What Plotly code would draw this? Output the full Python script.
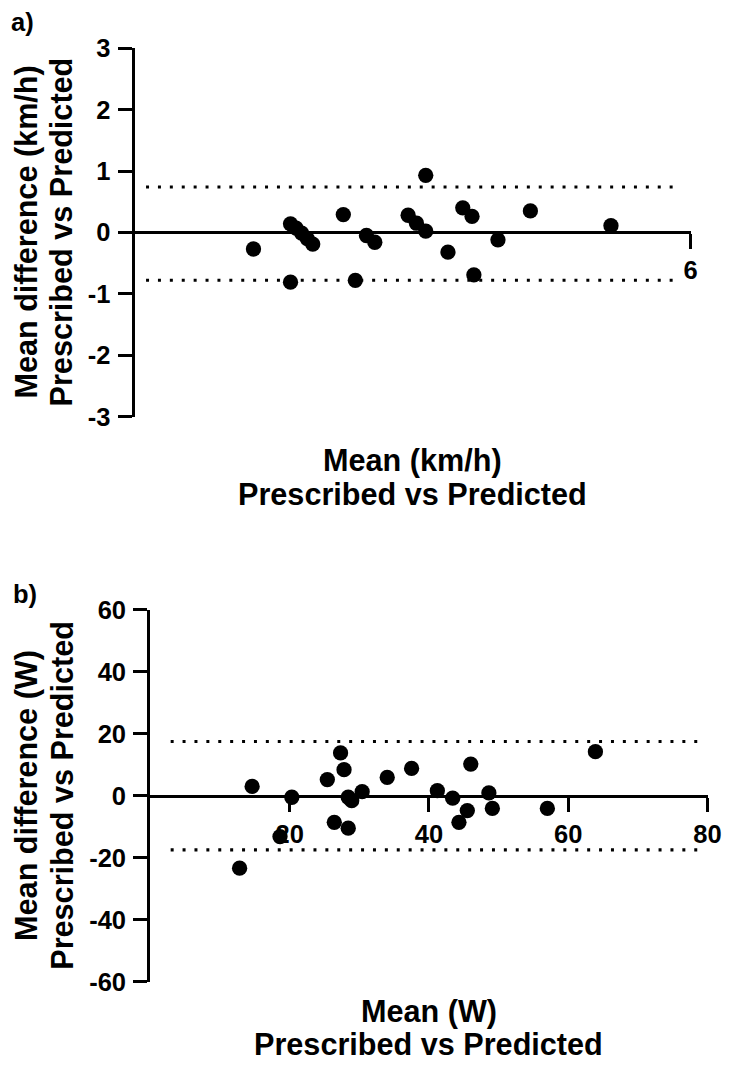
import plotly.graph_objects as go

W, H = 732, 1068

# ---- Panel a data (km/h) ----
a_mean = [1.28, 1.68, 1.74, 1.80, 1.86, 1.92, 2.25, 2.50, 2.59, 2.95, 3.04, 3.14,
          3.14, 3.54, 3.64, 3.38, 3.92, 4.27, 5.14, 3.66, 1.68, 2.38]
a_diff = [-0.27, 0.14, 0.07, -0.01, -0.10, -0.19, 0.29, -0.05, -0.16, 0.28, 0.15, 0.02,
          0.93, 0.40, 0.26, -0.32, -0.12, 0.35, 0.11, -0.69, -0.81, -0.78]
a_loa = [0.74, -0.78]
a_loa_span = [0.12, 5.9]
a_yticks = [-3, -2, -1, 0, 1, 2, 3]
a_xticks = [6]
a_xrange = [0, 6]
a_yrange = [-3, 3]

# ---- Panel b data (W) ----
b_mean = [14.6, 20.3, 18.6, 12.8, 27.3, 27.8, 25.4, 28.4, 28.9, 30.4, 34.0, 26.4, 28.4,
          37.5, 41.2, 43.4, 45.5, 44.3, 46.0, 48.6, 49.1, 57.0, 63.9]
b_diff = [3.0, -0.5, -13.2, -23.4, 13.8, 8.4, 5.2, -0.5, -1.6, 1.3, 5.9, -8.6, -10.5,
          8.8, 1.6, -0.8, -4.8, -8.6, 10.2, 0.9, -4.1, -4.1, 14.2]
b_loa = [17.5, -17.5]
b_loa_span = [2.9, 78.7]
b_yticks = [-60, -40, -20, 0, 20, 40, 60]
b_xticks = [20, 40, 60, 80]
b_xrange = [0, 80]
b_yrange = [-60, 60]

FONT = "Arial, Liberation Sans, sans-serif"

# page -> photo mapping observed for this viewer (compensated below)
SX, OX = 0.985, -1.5
SY, OY = 0.975, 13.5
S = 0.98

def sz(v):
    return v / S

def px2x(p):
    return ((p - OX) / SX) / W

def px2y(p):
    return 1 - ((p - OY) / SY) / H

TICK = sz(25)
TITLE = sz(30)

fig = go.Figure()

panels = [
    dict(xs=a_mean, ys=a_diff, loa=a_loa, span=a_loa_span, yt=a_yticks, xt=a_xticks,
         xr=a_xrange, yr=a_yrange, xd=[134, 692], yd=[47.7, 416.7], xa="x", ya="y"),
    dict(xs=b_mean, ys=b_diff, loa=b_loa, span=b_loa_span, yt=b_yticks, xt=b_xticks,
         xr=b_xrange, yr=b_yrange, xd=[149.6, 709], yd=[610, 982.3], xa="x2", ya="y2"),
]

for i, p in enumerate(panels):
    for v in p["loa"]:
        fig.add_trace(go.Scatter(x=p["span"], y=[v, v], mode="lines", xaxis=p["xa"], yaxis=p["ya"],
                                 line=dict(color="black", width=sz(3), dash="3px,8.9px"),
                                 showlegend=False, hoverinfo="skip"))
    fig.add_trace(go.Scatter(x=p["xs"], y=p["ys"], mode="markers", xaxis=p["xa"], yaxis=p["ya"],
                             marker=dict(color="black", size=sz(15), line=dict(width=0)),
                             showlegend=False))
    suffix = "" if i == 0 else "2"
    ydom = [px2y(p["yd"][1]), px2y(p["yd"][0])]
    xdom = [px2x(p["xd"][0]), px2x(p["xd"][1])]
    pos = ydom[0] + (0 - p["yr"][0]) / (p["yr"][1] - p["yr"][0]) * (ydom[1] - ydom[0])
    fig.update_layout(**{
        "xaxis" + suffix: dict(domain=xdom, range=p["xr"], anchor="free", position=pos,
                               showline=True, linewidth=sz(3), linecolor="black", showgrid=False,
                               zeroline=False, ticks="outside", ticklen=sz(14), tickwidth=sz(3),
                               tickcolor="black", tickvals=p["xt"], ticktext=[str(t) for t in p["xt"]],
                               tickfont=dict(family=FONT, size=TICK, color="black", weight="bold"),
                               ticklabelstandoff=0, layer="below traces", fixedrange=True),
        "yaxis" + suffix: dict(domain=ydom, range=p["yr"], anchor=p["xa"],
                               showline=True, linewidth=sz(3), linecolor="black", showgrid=False,
                               zeroline=False, ticks="outside", ticklen=sz(14), tickwidth=sz(3),
                               tickcolor="black", tickvals=p["yt"], ticktext=[str(t) for t in p["yt"]],
                               tickfont=dict(family=FONT, size=TICK, color="black", weight="bold"),
                               ticklabelstandoff=2, layer="below traces", fixedrange=True),
    })

ann = []
def text(x, y, s, size, angle=0, xanchor="center"):
    ann.append(dict(x=px2x(x), y=px2y(y), xref="paper", yref="paper", text=s, showarrow=False,
                    textangle=angle, xanchor=xanchor, yanchor="middle",
                    font=dict(family=FONT, size=size, color="black", weight="bold")))

text(8, 22, "a)", sz(25), xanchor="left")
text(10, 594, "b)", sz(25), xanchor="left")
text(25, 232, "Mean difference (km/h)", TITLE, angle=-90)
text(60, 232, "Prescribed vs Predicted", TITLE, angle=-90)
text(25, 796, "Mean difference (W)", TITLE, angle=-90)
text(60, 796, "Prescribed vs Predicted", TITLE, angle=-90)
text(413, 461, "Mean (km/h)", TITLE)
text(413, 494, "Prescribed vs Predicted", TITLE)
text(429, 1012, "Mean (W)", TITLE)
text(429, 1045, "Prescribed vs Predicted", TITLE)

fig.update_layout(width=W, height=H, margin=dict(l=0, r=0, t=0, b=0), autosize=False,
                  paper_bgcolor="white", plot_bgcolor="white", annotations=ann,
                  showlegend=False)

post = ("document.documentElement.style.margin='0';document.body.style.margin='0';"
        "document.body.style.padding='0';document.body.style.overflow='hidden';"
        "var d=document.getElementById('{plot_id}');d.style.position='absolute';"
        "d.style.left='0px';d.style.top='0px';")
fig.write_html("out.html", post_script=post, config={"displayModeBar": False})
